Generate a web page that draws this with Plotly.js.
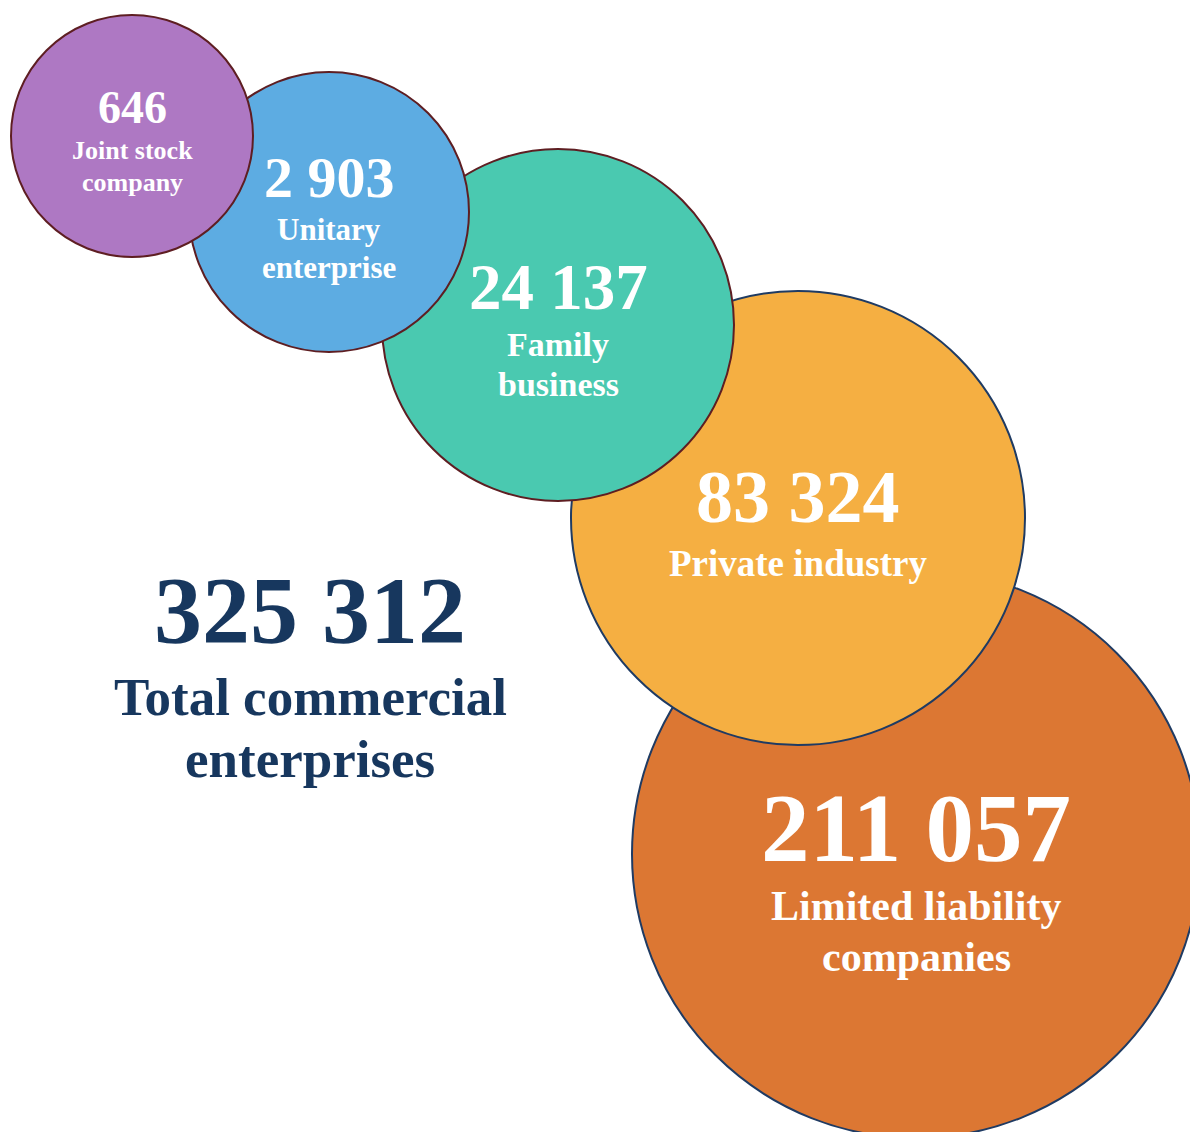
<!DOCTYPE html>
<html>
<head>
<meta charset="utf-8">
<script src="https://cdn.plot.ly/plotly-3.0.1.min.js"></script>
<style>html,body{margin:0;padding:0;background:#fff;}#chart{width:1190px;height:1132px;}</style>
</head>
<body>
<div id="chart"></div>
<script>
// ---- data ----
var categories = ["Limited liability<br>companies", "Private industry", "Family<br>business", "Unitary<br>enterprise", "Joint stock<br>company"];
var values = [211057, 83324, 24137, 2903, 646];
var totalValue = 325312;
var totalLabel = "Total commercial<br>enterprises";

// ---- layout (pixel positions of circles, not data) ----
var centerX = [916, 798, 558, 329, 132];
var centerY = [854, 518, 325, 212, 136];
var radius  = [284, 227, 176, 140, 121];
var fills   = ["#DC7733", "#F5AF42", "#4AC9B0", "#5DACE2", "#AE78C3"];
var borders = ["#1F3B63", "#1F3B63", "#5E1E22", "#5E1E22", "#5E1E22"];
var numSize = [97, 74, 65, 58, 46];
var labSize = [42, 37, 34, 31, 26];
var numY    = [828, 497, 287, 177, 107];
var labY    = [906, 563, 344, 229, 150];
var labGap  = [51, 0, 40, 38, 32];

function fmt(v){ return String(v).replace(/\B(?=(\d{3})+(?!\d))/g, " "); }

var trace = {
  type: "scatter", mode: "markers",
  x: centerX, y: centerY,
  marker: {
    size: radius.map(function(r){ return 2*r; }),
    sizemode: "diameter",
    color: fills, opacity: 1,
    line: {color: borders, width: 2}
  },
  hoverinfo: "skip", cliponaxis: true
};

var font = "Liberation Serif, Times New Roman, serif";
var ann = [];
function addText(x, y, txt, size, color){
  ann.push({x: x, y: y, xref: "x", yref: "y", text: "<b>" + txt + "</b>",
            showarrow: false, xanchor: "center", yanchor: "middle",
            font: {family: font, size: size, color: color}});
}
function addLines(x, y, txt, size, gap, color){
  var lines = txt.split("<br>");
  for (var k = 0; k < lines.length; k++) addText(x, y + k*gap, lines[k], size, color);
}
for (var i = 0; i < values.length; i++) {
  addText(centerX[i], numY[i], fmt(values[i]), numSize[i], "#ffffff");
  addLines(centerX[i], labY[i], categories[i], labSize[i], labGap[i], "#ffffff");
}
addText(310, 610, fmt(totalValue), 96, "#17375E");
addLines(310, 697, totalLabel, 53, 62, "#17375E");

var layout = {
  width: 1190, height: 1132,
  margin: {l: 0, r: 0, t: 0, b: 0},
  paper_bgcolor: "#ffffff", plot_bgcolor: "#ffffff",
  showlegend: false,
  xaxis: {range: [0, 1190], visible: false, fixedrange: true},
  yaxis: {range: [1132, 0], visible: false, fixedrange: true},
  annotations: ann
};

Plotly.newPlot("chart", [trace], layout, {displayModeBar: false, staticPlot: true});
</script>
</body>
</html>
